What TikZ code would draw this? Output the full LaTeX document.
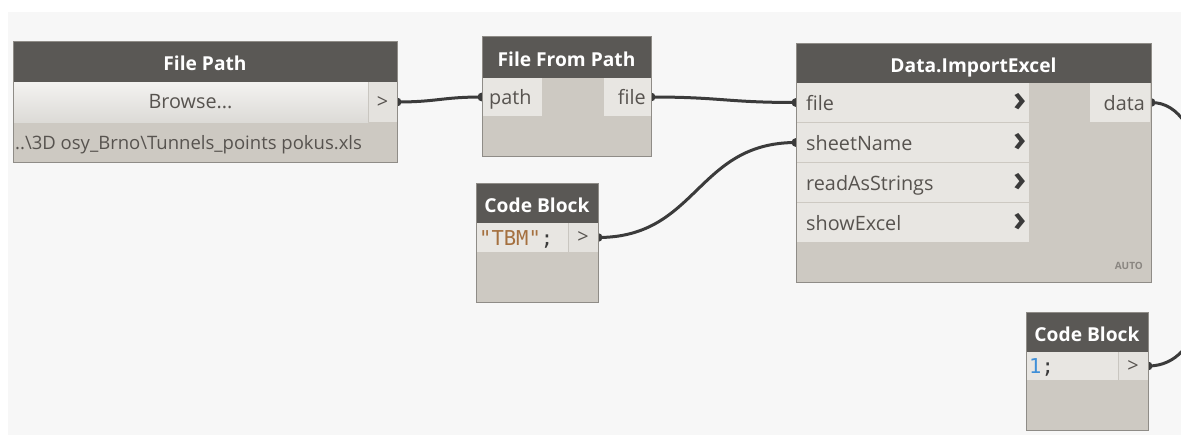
\documentclass[tikz,border=0pt]{standalone}
\usepackage{fontspec}
\usetikzlibrary{calc}
\setmainfont{Open Sans}
\newfontfamily\codefam{DejaVu Sans Mono}
\newcommand\lblfont{\fontsize{19.8}{20}\selectfont}
\newcommand\pathfont{\fontsize{18.5}{20}\selectfont}
\newcommand\ttlfont{\bfseries\fontsize{19.2}{20}\selectfont}
\newcommand\cdfont{\codefam\fontsize{20.5}{21}\selectfont}
\newcommand\autofont{\bfseries\fontsize{10}{10}\selectfont}
\newcommand\chevfont{\bfseries\fontsize{36}{36}\selectfont}
\definecolor{bgc}{HTML}{F7F7F7}
\definecolor{hdrc}{HTML}{5A5855}
\definecolor{bodyc}{HTML}{CDC9C2}
\definecolor{portc}{HTML}{E8E6E2}
\definecolor{btnc}{HTML}{E4E2DE}
\definecolor{sepc}{HTML}{C9C6C0}
\definecolor{edgec}{HTML}{8F8C87}
\definecolor{txtc}{HTML}{57534F}
\definecolor{wirec}{HTML}{3B3B3B}
\definecolor{strc}{HTML}{A5703F}
\definecolor{numc}{HTML}{3F8FD8}
\definecolor{chevc}{HTML}{3A3A3A}
\definecolor{autoc}{HTML}{8A8681}
\pgfdeclarelayer{back}
\pgfdeclarelayer{wires}
\pgfsetlayers{back,wires,main}
\begin{document}
\begin{tikzpicture}[x=1pt,y=-1pt,
  box/.style={fill=bodyc, anchor=north west, inner sep=0pt, outer sep=0pt},
  hdr/.style={fill=hdrc, anchor=north west, inner sep=0pt, outer sep=0pt},
  cell/.style={fill=portc, anchor=north west, inner sep=0pt, outer sep=0pt},
  btn/.style={fill=btnc, anchor=north west, inner sep=0pt, outer sep=0pt},
  ttl/.style={text=white, font=\ttlfont, inner sep=0pt, anchor=base, yshift=-9pt},
  lbl/.style={text=txtc, font=\lblfont, inner sep=0pt},
  lbll/.style={lbl, anchor=base west, xshift=10pt, yshift=-7.5pt},
  lblr/.style={lbl, anchor=base east, xshift=-5pt, yshift=-7.5pt},
  gt/.style={lbl, anchor=base, yshift=-6pt},
  chev/.style={text=chevc, font=\chevfont, inner sep=0pt, anchor=center},
  edge/.style={draw=edgec, line width=1pt},
  sep/.style={draw=sepc, line width=1pt},
  wire/.style={draw=wirec, line width=3pt},
  dot/.style={fill=wirec},
]
\useasboundingbox (0,0) rectangle (1181,434);
\begin{pgfonlayer}{back}
  \fill[white] (-5,-5) rectangle (1190,440);
  \fill[bgc] (8,12) rectangle (1190,440);
\end{pgfonlayer}

% ---------- File Path ----------
\node[box, minimum width=384pt, minimum height=121pt] (fp) at (13,41) {};
\node[hdr, minimum width=384pt, minimum height=41pt] (fph) at (13,41) {};
\node[ttl] (fpt) at (fph) {File Path};
\node[cell, top color=white!50!portc, bottom color=portc!95!black, minimum width=355pt, minimum height=40pt] (fpb) at (13,82) {};
\node[gt, yshift=0pt] (fpbt) at (fpb) {Browse...};
\node[btn, minimum width=29pt, minimum height=40pt] (fpo) at (368,82) {};
\node[gt] (fpot) at (fpo) {>};
\draw[sep] (fpo.north west) -- (fpo.south west);
\node[lbl, font=\pathfont, anchor=base west] (fpv) at (15,149) {..\textbackslash3D osy\_Brno\textbackslash Tunnels\_points pokus.xls};
\draw[edge] (fp.north west) rectangle (fp.south east);

% ---------- File From Path ----------
\node[box, minimum width=169pt, minimum height=120pt] (ffp) at (482,36) {};
\node[hdr, minimum width=169pt, minimum height=42pt] (ffph) at (482,36) {};
\node[ttl] (ffpt) at (ffph) {File From Path};
\node[cell, minimum width=60pt, minimum height=38pt] (ffpp) at (482,78) {};
\node[lbll, xshift=-3pt] (ffppt) at (ffpp.west) {path};
\node[cell, minimum width=47pt, minimum height=38pt] (ffpf) at (604,78) {};
\node[lblr] (ffpft) at (ffpf.east) {file};
\draw[edge] (ffp.north west) rectangle (ffp.south east);

% ---------- Data.ImportExcel ----------
\node[box, minimum width=355pt, minimum height=239pt] (die) at (796,43) {};
\node[hdr, minimum width=355pt, minimum height=40pt] (dieh) at (796,43) {};
\node[ttl] (diet) at (dieh) {Data.ImportExcel};
\node[cell, minimum width=233pt, minimum height=39pt] (diea) at (796,83) {};
\node[cell, minimum width=233pt, minimum height=39pt] (dieb) at (796,123) {};
\node[cell, minimum width=233pt, minimum height=39pt] (diec) at (796,163) {};
\node[cell, minimum width=233pt, minimum height=39pt] (died) at (796,203) {};
\node[lbll] (dieat) at (diea.west) {file};
\node[lbll] (diebt) at (dieb.west) {sheetName};
\node[lbll] (diect) at (diec.west) {readAsStrings};
\node[lbll] (diedt) at (died.west) {showExcel};
\node[chev] (dieak) at ($(diea.east)+(-9,0)$) {›};
\node[chev] (diebk) at ($(dieb.east)+(-9,0)$) {›};
\node[chev] (dieck) at ($(diec.east)+(-9,0)$) {›};
\node[chev] (diedk) at ($(died.east)+(-9,0)$) {›};
\node[cell, minimum width=60pt, minimum height=39pt] (dieo) at (1090,83) {};
\node[lblr] (dieot) at (dieo.east) {data};
\node[text=autoc, font=\autofont, inner sep=0pt, anchor=base east] (dieauto) at (1143,269) {AUTO};
\draw[edge] (die.north west) rectangle (die.south east);

% ---------- Code Block 1 ----------
\node[box, minimum width=122pt, minimum height=119pt] (cba) at (476,183) {};
\node[hdr, minimum width=122pt, minimum height=40pt] (cbah) at (476,183) {};
\node[ttl] (cbat) at (cbah) {Code Block};
\node[cell, minimum width=92pt, minimum height=29pt] (cbac) at (476,223) {};
\node[font=\cdfont, inner sep=0pt, anchor=base west, xshift=3pt, yshift=-7.5pt] (cbact) at (cbac.west) {\textcolor{strc}{"TBM"}\textcolor{chevc}{;}};
\node[btn, minimum width=30pt, minimum height=29pt] (cbao) at (568,223) {};
\node[gt] (cbaot) at (cbao) {>};
\draw[sep] (cbao.north west) -- (cbao.south west);
\draw[edge] (cba.north west) rectangle (cba.south east);

% ---------- Code Block 2 ----------
\node[box, minimum width=122pt, minimum height=118pt] (cbb) at (1026,312) {};
\node[hdr, minimum width=122pt, minimum height=40pt] (cbbh) at (1026,312) {};
\node[ttl] (cbbt) at (cbbh) {Code Block};
\node[cell, minimum width=92pt, minimum height=28pt] (cbbc) at (1026,352) {};
\node[font=\cdfont, inner sep=0pt, anchor=base west, xshift=3pt, yshift=-7.5pt] (cbbct) at (cbbc.west) {\textcolor{numc}{1}\textcolor{chevc}{;}};
\node[btn, minimum width=30pt, minimum height=28pt] (cbbo) at (1118,352) {};
\node[gt] (cbbot) at (cbbo) {>};
\draw[sep] (cbbo.north west) -- (cbbo.south west);
\draw[edge] (cbb.north west) rectangle (cbb.south east);

% ---------- Wires ----------
\coordinate (exta) at (1260,230);
\coordinate (extb) at (1260,270);
\begin{pgfonlayer}{wires}
  \begin{scope}
    \clip (0,0) rectangle (1181,434);
    \draw[wire] (fpo.east) .. controls +(40,0) and +(-40,0) .. (ffpp.west);
    \draw[wire] (ffpf.east) .. controls +(70,0) and +(-70,0) .. (diea.west);
    \draw[wire] (cbao.east) .. controls +(100,0) and +(-100,0) .. (dieb.west);
    \draw[wire] (die.east |- dieo.east) .. controls +(60,0) and +(-60,0) .. (exta);
    \draw[wire] (cbbo.east) .. controls +(60,0) and +(-60,0) .. (extb);
    \foreach \p in {fpo.east, ffpp.west, ffpf.east, diea.west, cbao.east, dieb.west, cbbo.east}
      \fill[dot] (\p) circle[radius=4.5pt];
    \fill[dot] (die.east |- dieo.east) circle[radius=4.5pt];
  \end{scope}
\end{pgfonlayer}
\end{tikzpicture}
\end{document}
